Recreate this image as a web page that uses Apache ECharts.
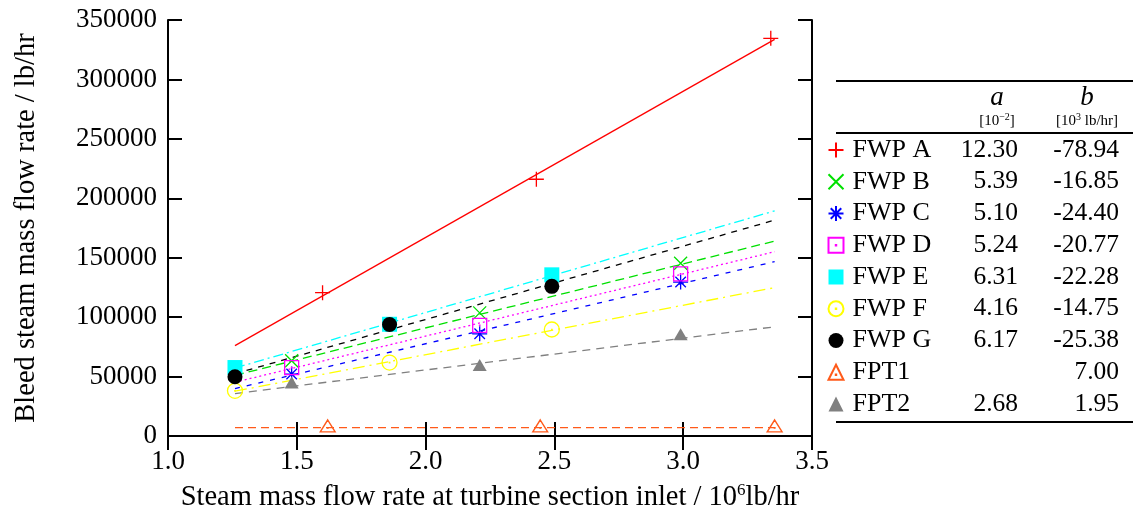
<!DOCTYPE html>
<html><head><meta charset="utf-8">
<script src="https://cdn.jsdelivr.net/npm/echarts@6/dist/echarts.min.js"></script>
<style>html,body{margin:0;padding:0;background:#fff}#c{width:1133px;height:511px}</style>
</head><body><div id="c"></div>
<script>
// ---- data ----
const names = ['FWP A','FWP B','FWP C','FWP D','FWP E','FWP F','FWP G','FPT1','FPT2'];
const xA    = [1.60, 2.43, 3.34];
const xBCD  = [1.48, 2.21, 2.99];
const xEFG  = [1.26, 1.86, 2.49];
const xFPT1 = [1.62, 2.445, 3.355];
const yA    = [120600, 216000, 334600];
const yB    = [63300, 103600, 145300];
const yC    = [52100, 86000, 129500];
const yD    = [57600, 93100, 136400];
const yE    = [57600, 94000, 135600];
const yF    = [38000, 61800, 89600];
const yG    = [49900, 93800, 125900];
const yFPT1 = [8500, 8500, 8500];
const yFPT2 = [45000, 59700, 85600];
const coefA = [12.30, 5.39, 5.10, 5.24, 6.31, 4.16, 6.17, null, 2.68];      // a [10^-2]
const coefB = [-78.94, -16.85, -24.40, -20.77, -22.28, -14.75, -25.38, 7.00, 1.95]; // b [10^3 lb/hr]
const fitRange = [1.26, 3.355];   // 10^6 lb/hr
const xTickLabels = ['1.0','1.5','2.0','2.5','3.0','3.5'];
const yTickLabels = ['0','50000','100000','150000','200000','250000','300000','350000'];

// ---- styles ----
const FONT = 'Liberation Serif';
const xs = [xA, xBCD, xBCD, xBCD, xEFG, xEFG, xEFG, xFPT1, xBCD];
const ys = [yA, yB, yC, yD, yE, yF, yG, yFPT1, yFPT2];
const colors = ['#ff0000','#00e000','#0000ff','#ff00ff','#00ffff','#ffff00','#000000','#ff5a1a','#808080'];
const dashes = ['solid',[9,5],[5,7],[2,3],[10,4,2,4],[12,5,2,5],[6,6],[8,5],[8,6]];
const PLUS = 'path://M0,5L10,5M5,0L5,10';
const CROSS = 'path://M0,0L10,10M10,0L0,10';
const STAR = 'path://M0,5L10,5M5,0L5,10M1.5,1.5L8.5,8.5M8.5,1.5L1.5,8.5';
const BOXD = 'path://M0,0H10V10H0Z M4.85,4.85H5.15V5.15H4.85Z';
const CIRD = 'path://M10,5A5,5,0,1,1,0,5A5,5,0,1,1,10,5Z M4.85,4.85H5.15V5.15H4.85Z';
const TRID = 'path://M5,0L10,10L0,10Z M4.85,6.5H5.15V6.8H4.85Z';
const OPEN = 'rgba(0,0,0,0)';
const marks = [
  {symbol: PLUS, size: 15, itemStyle:{color: OPEN, borderColor: colors[0], borderWidth: 1.3}},
  {symbol: CROSS, size: 13, itemStyle:{color: OPEN, borderColor: colors[1], borderWidth: 1.3}},
  {symbol: STAR, size: 15, itemStyle:{color: OPEN, borderColor: colors[2], borderWidth: 1.3}},
  {symbol: BOXD, size: 14, itemStyle:{color: OPEN, borderColor: colors[3], borderWidth: 1.3}},
  {symbol: 'rect', size: 15, itemStyle:{color: colors[4]}},
  {symbol: CIRD, size: 15, itemStyle:{color: OPEN, borderColor: colors[5], borderWidth: 1.3}},
  {symbol: 'circle', size: 15, itemStyle:{color: colors[6]}},
  {symbol: TRID, size: [15,12], itemStyle:{color: OPEN, borderColor: colors[7], borderWidth: 1.3}},
  {symbol: 'triangle', size: [14,12], itemStyle:{color: colors[8]}}
];

const series = [];
names.forEach((n, i) => {
  const a = coefA[i] == null ? 0 : coefA[i];
  const b = coefB[i];
  const fit = fitRange.map(x => [x, a * 1e4 * x + b * 1e3]);
  series.push({
    name: n + ' fit', type: 'line', data: fit, symbol: 'none', silent: true,
    lineStyle: {color: colors[i], width: 1.3, type: dashes[i]}, z: 2, animation: false
  });
});
names.forEach((n, i) => {
  series.push({
    name: n, type: 'scatter', data: xs[i].map((x, k) => [x, ys[i][k]]),
    symbol: marks[i].symbol, symbolSize: marks[i].size,
    itemStyle: Object.assign({opacity: 1}, marks[i].itemStyle),
    z: 3, animation: false
  });
});

const axisLine = {show: true, lineStyle: {color: '#000', width: 2}};
const axisTick = {show: true, inside: true, length: 14, lineStyle: {color: '#000', width: 2}};
const lbl = {fontFamily: FONT, fontSize: 27, color: '#000'};

const rowY = i => 150 + 31.75 * i;
const graphics = [
  {type:'line', shape:{x1:836,y1:81,x2:1133,y2:81}, style:{stroke:'#000', lineWidth:2}},
  {type:'line', shape:{x1:836,y1:133,x2:1133,y2:133}, style:{stroke:'#000', lineWidth:2}},
  {type:'line', shape:{x1:836,y1:422,x2:1133,y2:422}, style:{stroke:'#000', lineWidth:2}},
  {type:'text', x:997, y:98, style:{text:'a', fontFamily:FONT, fontStyle:'italic', fontSize:27, fill:'#000', align:'center', verticalAlign:'middle'}},
  {type:'text', x:1087, y:98, style:{text:'b', fontFamily:FONT, fontStyle:'italic', fontSize:27, fill:'#000', align:'center', verticalAlign:'middle'}},
  {type:'text', x:997, y:121, style:{text:'[10{s|\u22122}]', fontFamily:FONT, fontSize:15, fill:'#000', align:'center', verticalAlign:'middle',
     rich:{s:{fontFamily:FONT, fontSize:10, verticalAlign:'top', lineHeight:18}}}},
  {type:'text', x:1087, y:121, style:{text:'[10{s|3} lb/hr]', fontFamily:FONT, fontSize:15, fill:'#000', align:'center', verticalAlign:'middle',
     rich:{s:{fontFamily:FONT, fontSize:10, verticalAlign:'top', lineHeight:18}}}}
];
names.forEach((n, i) => {
  if (coefA[i] != null) graphics.push({type:'text', x:1018, y:rowY(i), style:{text: coefA[i].toFixed(2), fontFamily:FONT, fontSize:25.5, fill:'#000', align:'right', verticalAlign:'middle'}});
  graphics.push({type:'text', x:1119, y:rowY(i), style:{text: coefB[i].toFixed(2), fontFamily:FONT, fontSize:25.5, fill:'#000', align:'right', verticalAlign:'middle'}});
});

const chart = echarts.init(document.getElementById('c'), null, {renderer: 'canvas'});
chart.setOption({
  backgroundColor: '#fff',
  animation: false,
  grid: {left: 168, right: 321, top: 20, bottom: 75, containLabel: false, outerBoundsMode: 'none'},
  legend: {
    data: names, orient: 'vertical', left: 827.5, top: 137, itemWidth: 15, itemHeight: 15, itemGap: 5.75,
    selectedMode: false, padding: 0,
    textStyle: {fontFamily: FONT, fontSize: 26, color: '#000', lineHeight: 26, padding: [0,0,0,4]}
  },
  xAxis: [
    {type:'value', min:1, max:3.5, interval:0.5, position:'bottom', axisLine, axisTick, splitLine:{show:false},
     axisLabel: Object.assign({margin: 12, formatter: v => xTickLabels[Math.round((v - 1) / 0.5)]}, lbl),
     name: 'Steam mass flow rate at turbine section inlet / 10{s|6}lb/hr', nameLocation:'middle', nameGap: 46,
     nameTextStyle: {fontFamily: FONT, fontSize: 28.5, color: '#000', lineHeight: 32,
       rich: {s: {fontFamily: FONT, fontSize: 17, verticalAlign: 'top', lineHeight: 18}}}},
    {type:'value', min:1, max:3.5, interval:0.5, position:'top', axisLine, axisTick, splitLine:{show:false}, axisLabel:{show:false}}
  ],
  yAxis: [
    {type:'value', min:0, max:350000, interval:50000, position:'left', axisLine, axisTick, splitLine:{show:false},
     axisLabel: Object.assign({margin: 11, formatter: v => yTickLabels[Math.round(v / 50000)]}, lbl),
     name: 'Bleed steam mass flow rate / lb/hr', nameLocation:'middle', nameGap: 127,
     nameTextStyle: {fontFamily: FONT, fontSize: 28.5, color: '#000'}},
    {type:'value', min:0, max:350000, interval:50000, position:'right', axisLine, axisTick, splitLine:{show:false}, axisLabel:{show:false}}
  ],
  series,
  graphic: graphics
});
</script></body></html>
